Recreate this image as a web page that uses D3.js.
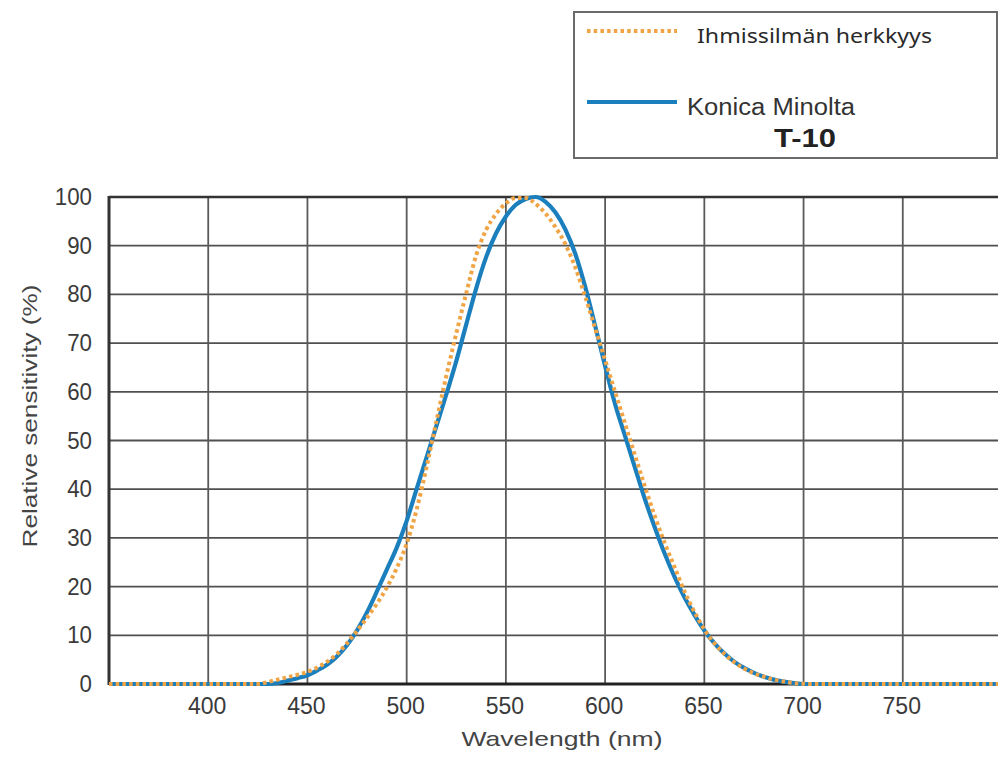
<html>
<head>
<script src="https://d3js.org/d3.v7.min.js"></script>
<style>
  body { margin: 0; background: #fff; }
  .tick-label { font-family: "Liberation Sans", Arial, sans-serif; font-size: 23px; fill: #3a3a3a; }
  .axis-title { font-family: "Liberation Sans", Arial, sans-serif; font-size: 21px; fill: #444; }
</style>
</head>
<body>
<svg id="chart" width="998" height="758"></svg>
<script>
  // wavelengths (nm) and relative sensitivity (%)
  const wavelengths = [350, 400, 425, 430, 435, 440, 445, 450, 455, 460, 465, 470, 475, 480, 485, 490, 495, 500,
    505, 510, 515, 520, 525, 530, 535, 540, 545, 550, 555, 560, 565, 570, 575, 580, 585, 590, 595, 600,
    605, 610, 615, 620, 625, 630, 635, 640, 645, 650, 655, 660, 665, 670, 675, 680, 685, 690, 695, 700,
    705, 750, 800];
  const eyeSensitivity = [0, 0, 0, 0.4, 0.9, 1.4, 1.9, 2.5, 3.4, 4.6, 6.2, 8.4, 10.9, 13.6, 16.5, 19.8, 23.8, 28.8,
    35.8, 44.5, 54, 63.3, 72, 80.2, 88, 93.2, 96.5, 98.7, 99.8, 99.8, 98.6, 96.6, 93.8, 90.3, 85.5, 79.5, 73, 66.5,
    60, 53.5, 47, 40.6, 34.5, 29, 24, 19, 14.8, 11.2, 8.4, 6.2, 4.5, 3.2, 2.2, 1.5, 0.9, 0.5, 0.2, 0.05,
    0, 0, 0];
  const t10Sensitivity = [0, 0, 0, 0, 0.2, 0.7, 1.2, 1.8, 2.8, 4.0, 5.7, 8, 11, 14.7, 19, 23.5, 28, 33.5,
    40, 46.5, 53, 59.5, 66.3, 73.8, 81.2, 87.6, 92.5, 96, 98.4, 99.6, 100, 99, 96.8, 93.3, 88.3, 81.5, 73.5, 65.3,
    57.5, 51, 44.5, 38, 32.2, 26.8, 22, 17.8, 14.2, 11, 8.4, 6.3, 4.6, 3.3, 2.3, 1.5, 0.9, 0.5, 0.2, 0,
    0, 0, 0];
  const xTicks = [400, 450, 500, 550, 600, 650, 700, 750];
  const yTicks = [0, 10, 20, 30, 40, 50, 60, 70, 80, 90, 100];

  const legendLabels = ["Ihmissilmän herkkyys", "Konica Minolta", "T-10"];

  const eyeColor = "#f0a445";
  const t10Color = "#1b7fbd";

  const svg = d3.select("#chart");
  svg.append("rect").attr("width", 998).attr("height", 758).attr("fill", "#fff");

  const x = d3.scaleLinear().domain([350, 800]).range([109, 1002]);
  const y = d3.scaleLinear().domain([0, 100]).range([684, 197]);

  // gridlines
  const grid = svg.append("g");
  grid.selectAll("line.h")
    .data(yTicks.filter(d => d > 0 && d < 100))
    .join("line")
    .attr("class", "h")
    .attr("x1", x(350)).attr("x2", x(800))
    .attr("y1", d => y(d)).attr("y2", d => y(d))
    .attr("stroke", "#505050").attr("stroke-width", 1.8);
  grid.selectAll("line.v")
    .data(xTicks)
    .join("line")
    .attr("class", "v")
    .attr("x1", d => x(d)).attr("x2", d => x(d))
    .attr("y1", y(100)).attr("y2", y(0))
    .attr("stroke", "#5a5a5a").attr("stroke-width", 1.8);

  // frame
  svg.append("line").attr("x1", x(350)).attr("x2", x(800)).attr("y1", y(100)).attr("y2", y(100))
    .attr("stroke", "#333").attr("stroke-width", 2.6);
  svg.append("line").attr("x1", x(350)).attr("x2", x(800)).attr("y1", y(0)).attr("y2", y(0))
    .attr("stroke", "#222").attr("stroke-width", 3);
  svg.append("line").attr("x1", x(350)).attr("x2", x(350)).attr("y1", y(100) - 1).attr("y2", y(0) + 1)
    .attr("stroke", "#333").attr("stroke-width", 3);

  // tick labels
  svg.selectAll("text.ytick")
    .data(yTicks)
    .join("text")
    .attr("class", "tick-label ytick")
    .attr("x", 92)
    .attr("y", d => y(d) + 8)
    .attr("text-anchor", "end")
    .attr("textLength", d => String(d).length * 12.4)
    .attr("lengthAdjust", "spacingAndGlyphs")
    .text(d => d);

  svg.selectAll("text.xtick")
    .data(xTicks)
    .join("text")
    .attr("class", "tick-label xtick")
    .attr("x", d => x(d) - 1)
    .attr("y", 714)
    .attr("text-anchor", "middle")
    .text(d => d);

  // axis titles
  svg.append("text")
    .attr("class", "axis-title")
    .attr("transform", "translate(37,416) rotate(-90)")
    .attr("text-anchor", "middle")
    .attr("textLength", 263)
    .attr("lengthAdjust", "spacingAndGlyphs")
    .text("Relative sensitivity (%)");
  svg.append("text")
    .attr("class", "axis-title")
    .attr("x", 562)
    .attr("y", 746)
    .attr("text-anchor", "middle")
    .attr("textLength", 201)
    .attr("lengthAdjust", "spacingAndGlyphs")
    .text("Wavelength (nm)");

  // curves
  const t10Data = wavelengths.map((w, i) => ({ w, v: t10Sensitivity[i] }));
  const eyeData = wavelengths.map((w, i) => ({ w, v: eyeSensitivity[i] }));
  const line = d3.line().x(d => x(d.w)).y(d => y(d.v)).curve(d3.curveMonotoneX);

  svg.append("path")
    .datum(t10Data)
    .attr("d", line)
    .attr("fill", "none")
    .attr("stroke", t10Color)
    .attr("stroke-width", 4.2);

  svg.append("path")
    .datum(eyeData)
    .attr("d", line)
    .attr("fill", "none")
    .attr("stroke", eyeColor)
    .attr("stroke-width", 4)
    .attr("stroke-dasharray", "3.5,3.2");

  // legend
  const legend = svg.append("g");
  legend.append("rect")
    .attr("x", 574).attr("y", 12)
    .attr("width", 423).attr("height", 146)
    .attr("fill", "#fff")
    .attr("stroke", "#6a6a6a").attr("stroke-width", 2);
  legend.append("line")
    .attr("x1", 587).attr("x2", 677).attr("y1", 31).attr("y2", 31)
    .attr("stroke", eyeColor).attr("stroke-width", 4).attr("stroke-dasharray", "3.5,3.2");
  legend.append("text")
    .attr("x", 697).attr("y", 43)
    .attr("textLength", 235)
    .attr("lengthAdjust", "spacingAndGlyphs")
    .style("font-family", "'Noto Sans', 'Open Sans', sans-serif")
    .style("font-size", "19px")
    .style("fill", "#2a2a2a")
    .text(legendLabels[0]);
  legend.append("line")
    .attr("x1", 587).attr("x2", 677).attr("y1", 102).attr("y2", 102)
    .attr("stroke", t10Color).attr("stroke-width", 4);
  legend.append("text")
    .attr("x", 687).attr("y", 115)
    .attr("textLength", 168)
    .attr("lengthAdjust", "spacingAndGlyphs")
    .style("font-family", "'Liberation Sans', Arial, sans-serif")
    .style("font-size", "23px")
    .style("fill", "#333")
    .text(legendLabels[1]);
  legend.append("text")
    .attr("x", 774).attr("y", 147)
    .attr("textLength", 62)
    .attr("lengthAdjust", "spacingAndGlyphs")
    .style("font-family", "'Liberation Sans', Arial, sans-serif")
    .style("font-size", "25px")
    .style("font-weight", "bold")
    .style("fill", "#222")
    .text(legendLabels[2]);
</script>
</body>
</html>
